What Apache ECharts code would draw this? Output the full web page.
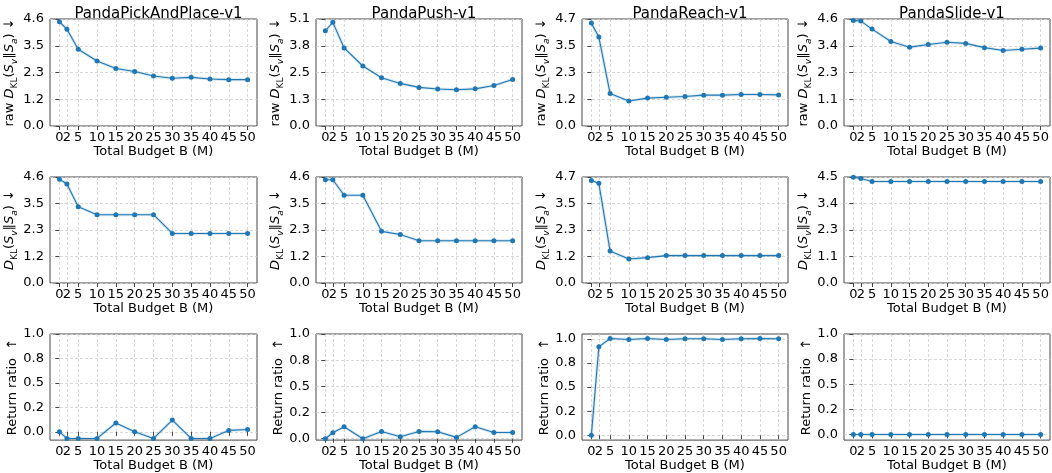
<!DOCTYPE html>
<html><head><meta charset="utf-8">
<script src="https://cdn.jsdelivr.net/npm/echarts@6/dist/echarts.min.js"></script>
<style>html,body{margin:0;padding:0;background:#fff}#c{width:1052px;height:473px}</style>
</head><body><div id="c"></div>
<script>
// ---------- data ----------
const budgets = [0, 2, 5, 10, 15, 20, 25, 30, 35, 40, 45, 50];
const xTicks = [0, 2, 5, 10, 15, 20, 25, 30, 35, 40, 45, 50];
const envs = ['PandaPickAndPlace-v1', 'PandaPush-v1', 'PandaReach-v1', 'PandaSlide-v1'];

const rawKL_PickAndPlace = [4.52, 4.20, 3.33, 2.82, 2.49, 2.36, 2.17, 2.07, 2.11, 2.04, 2.01, 2.01];
const rawKL_Push         = [4.54, 4.94, 3.72, 2.86, 2.30, 2.03, 1.84, 1.76, 1.73, 1.77, 1.93, 2.22];
const rawKL_Reach        = [4.50, 3.89, 1.42, 1.09, 1.22, 1.26, 1.29, 1.35, 1.35, 1.38, 1.38, 1.36];
const rawKL_Slide        = [4.50, 4.47, 4.13, 3.60, 3.36, 3.47, 3.57, 3.52, 3.34, 3.22, 3.27, 3.32];

const KL_PickAndPlace = [4.54, 4.33, 3.34, 2.99, 2.99, 2.99, 2.99, 2.17, 2.17, 2.17, 2.17, 2.17];
const KL_Push         = [4.52, 4.52, 3.84, 3.84, 2.26, 2.12, 1.85, 1.85, 1.85, 1.85, 1.85, 1.85];
const KL_Reach        = [4.53, 4.40, 1.41, 1.06, 1.12, 1.21, 1.21, 1.21, 1.21, 1.21, 1.21, 1.21];
const KL_Slide        = [4.51, 4.46, 4.33, 4.33, 4.33, 4.33, 4.33, 4.33, 4.33, 4.33, 4.33, 4.33];

const ret_PickAndPlace = [0.0, -0.068, -0.068, -0.068, 0.09, 0.0, -0.068, 0.12, -0.068, -0.068, 0.014, 0.024];
const ret_Push         = [0.0, 0.057, 0.114, 0.0, 0.07, 0.019, 0.07, 0.067, 0.013, 0.114, 0.06, 0.06];
const ret_Reach        = [0.0, 0.917, 1.003, 0.993, 1.003, 0.993, 1.0, 1.0, 0.993, 1.0, 1.003, 1.0];
const ret_Slide        = [0.0, 0.0, 0.0, 0.0, 0.0, 0.0, 0.0, 0.0, 0.0, 0.0, 0.0, 0.0];

// y axis limits (max of KL axes = top tick) and tick labels
const rawKL_max = [4.64, 5.1, 4.68, 4.56];
const rawKL_tickLabels = [
  ['0.0', '1.2', '2.3', '3.5', '4.6'],
  ['0.0', '1.3', '2.5', '3.8', '5.1'],
  ['0.0', '1.2', '2.3', '3.5', '4.7'],
  ['0.0', '1.1', '2.3', '3.4', '4.6']
];
const KL_max = [4.64, 4.64, 4.68, 4.52];
const KL_tickLabels = [
  ['0.0', '1.2', '2.3', '3.5', '4.6'],
  ['0.0', '1.2', '2.3', '3.5', '4.6'],
  ['0.0', '1.2', '2.3', '3.5', '4.7'],
  ['0.0', '1.1', '2.3', '3.4', '4.5']
];
const ret_min = [-0.085, -0.013, -0.05, -0.056];
const ret_max = [1.0, 1.0, 1.05, 1.0];
const ret_ticks = [0, 0.25, 0.5, 0.75, 1.0];
const ret_tickLabels = ['0.0', '0.2', '0.5', '0.8', '1.0'];

// ---------- layout ----------
const FONT = 'DejaVu Sans';
const X_MIN = -2.5, X_MAX = 52.5;
const colLeft = [50, 316, 582, 844];
const colWidth = [207, 206, 206, 206];
const rowTop = [19, 177, 334];
const rowHeight = [107, 106, 107];
const BLUE = '#1f77b4';

const rows = [
  { data: [rawKL_PickAndPlace, rawKL_Push, rawKL_Reach, rawKL_Slide],
    min: [0, 0, 0, 0], max: rawKL_max,
    ticks: rawKL_max.map(m => [0, m / 4, m / 2, 3 * m / 4, m]),
    labels: rawKL_tickLabels,
    name: '{n|raw }{i|D}{s|KL}{n|(}{i|S}{si|v}{n|‖}{i|S}{si|a}{n|) ↓}' },
  { data: [KL_PickAndPlace, KL_Push, KL_Reach, KL_Slide],
    min: [0, 0, 0, 0], max: KL_max,
    ticks: KL_max.map(m => [0, m / 4, m / 2, 3 * m / 4, m]),
    labels: KL_tickLabels,
    name: '{i|D}{s|KL}{n|(}{i|S}{si|v}{n|‖}{i|S}{si|a}{n|) ↓}' },
  { data: [ret_PickAndPlace, ret_Push, ret_Reach, ret_Slide],
    min: ret_min, max: ret_max,
    ticks: [ret_ticks, ret_ticks, ret_ticks, ret_ticks],
    labels: [ret_tickLabels, ret_tickLabels, ret_tickLabels, ret_tickLabels],
    name: '{n|Return ratio  ↑}' }
];

const rich = {
  n: { fontFamily: FONT, fontSize: 13, color: '#000', lineHeight: 20 },
  i: { fontFamily: FONT, fontSize: 13, color: '#000', fontStyle: 'italic', lineHeight: 20 },
  s: { fontFamily: FONT, fontSize: 9, color: '#000', verticalAlign: 'bottom', lineHeight: 12 },
  si: { fontFamily: FONT, fontSize: 9, color: '#000', fontStyle: 'italic', verticalAlign: 'bottom', lineHeight: 12 }
};

// an empty placeholder label at the axis minimum keeps ECharts from hiding the "0"/"2" pair
const xLabelValues = [X_MIN].concat(xTicks);

const grids = [], xAxes = [], yAxes = [], series = [], titles = [];
let idx = 0;
for (let r = 0; r < 3; r++) {
  for (let c = 0; c < 4; c++) {
    const R = rows[r];
    grids.push({ left: colLeft[c], top: rowTop[r], width: colWidth[c], height: rowHeight[r],
      show: true, borderColor: '#444', borderWidth: 1, containLabel: false });
    xAxes.push({
      type: 'value', gridIndex: idx, min: X_MIN, max: X_MAX,
      name: 'Total Budget B (M)', nameLocation: 'middle', nameGap: 16,
      nameTextStyle: { fontFamily: FONT, fontSize: 13, color: '#000' },
      axisLine: { show: false },
      axisTick: { show: true, length: 4, customValues: xTicks, lineStyle: { color: '#444' } },
      axisLabel: { customValues: xLabelValues, hideOverlap: false, showMinLabel: true, showMaxLabel: true,
        fontFamily: FONT, fontSize: 13, color: '#000', margin: 5,
        formatter: (v) => (xTicks.indexOf(v) >= 0 ? String(v) : '') },
      splitLine: { show: true, lineStyle: { color: '#cfcfcf', type: [3, 2], width: 0.8 } }
    });
    const ticks = R.ticks[c], labels = R.labels[c];
    yAxes.push({
      type: 'value', gridIndex: idx, min: R.min[c], max: R.max[c],
      name: R.name, nameLocation: 'middle', nameGap: 27, nameRotate: 90,
      nameTextStyle: { fontFamily: FONT, fontSize: 13, color: '#000', rich: rich },
      axisLine: { show: false },
      axisTick: { show: true, length: 4, customValues: ticks, lineStyle: { color: '#444' } },
      axisLabel: { customValues: ticks, hideOverlap: false, fontFamily: FONT, fontSize: 13, color: '#000', margin: 6,
        formatter: (v) => { for (let k = 0; k < ticks.length; k++) if (Math.abs(ticks[k] - v) < 1e-6) return labels[k]; return ''; } },
      splitLine: { show: true, lineStyle: { color: '#cfcfcf', type: [3, 2], width: 0.8 } }
    });
    const pts = budgets.map((b, k) => [b, R.data[c][k]]);
    series.push({
      type: 'line', xAxisIndex: idx, yAxisIndex: idx, data: pts, silent: true,
      symbol: 'none', lineStyle: { color: BLUE, width: 3, opacity: 0.18 }, z: 1
    });
    series.push({
      type: 'line', xAxisIndex: idx, yAxisIndex: idx, data: pts,
      symbol: 'circle', symbolSize: 5, itemStyle: { color: BLUE },
      lineStyle: { color: BLUE, width: 1.1 }, z: 2
    });
    if (r === 0) {
      titles.push({ text: envs[c], left: colLeft[c] + colWidth[c] / 2, top: 2, textAlign: 'center',
        textStyle: { fontFamily: FONT, fontSize: 15, fontWeight: 'normal', color: '#000' } });
    }
    idx++;
  }
}

const chart = echarts.init(document.getElementById('c'), null, { renderer: 'canvas' });
chart.setOption({
  animation: false, backgroundColor: '#fff',
  title: titles, grid: grids, xAxis: xAxes, yAxis: yAxes, series: series
});
</script></body></html>
